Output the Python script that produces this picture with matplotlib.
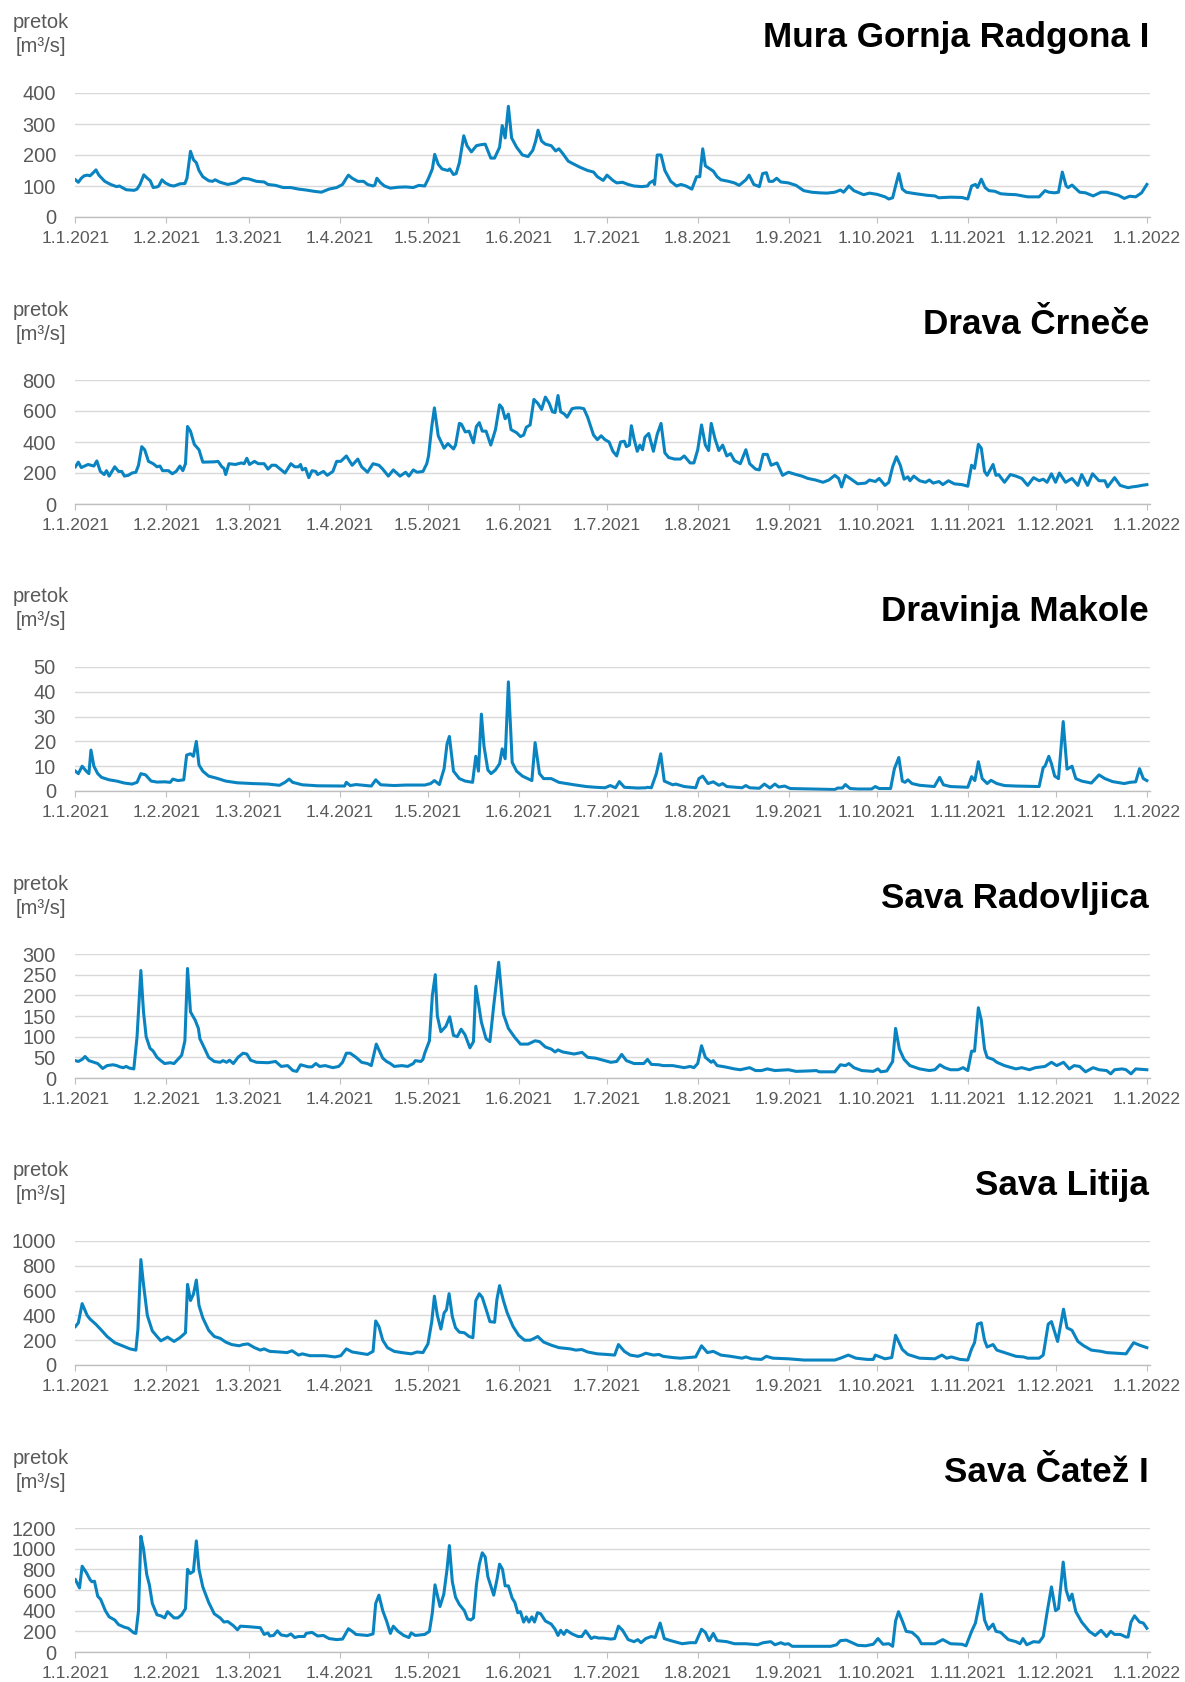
import matplotlib
matplotlib.use("Agg")
import matplotlib.pyplot as plt

plt.rcParams['font.family'] = ['Liberation Sans', 'DejaVu Sans']

# daily discharge 2021, day 0 = 1.1.2021
mura_day = [0, 1, 2, 3, 4, 5, 6.3, 7, 8, 9, 10, 12, 14, 15, 17.3, 20, 21, 22, 23.3, 24.5, 25.5, 26.5, 27.8, 28.4, 29.5,
            30.6, 32.3, 33.6, 35.6, 37.3, 38, 39.2, 40.2, 41.2, 42.1, 43.4, 45.4, 46.7, 47.6, 49.3, 51.9, 54.5, 57.1,
            59, 61.7, 64.3, 65.6, 68.2, 70.8, 73.4, 76, 78.6, 81.2, 83.8, 86.4, 89, 91, 92.3, 93, 94.3, 96.2, 98.2,
            99.5, 101.4, 102, 102.7, 104, 105.3, 107.3, 109.9, 112.5, 115.1, 117, 119, 120.3, 121.6, 122.4, 123.6,
            124.9, 126.9, 127.5, 128.8, 129.7, 130.8, 132.3, 133.4, 134.9, 136.6, 138, 139.6, 141.5, 142.8, 144.5,
            145.4, 146.4, 147.5, 148.6, 150.3, 152.3, 154.2, 155.8, 156.8, 157.6, 158.8, 160.1, 162.1, 163.6, 164.7,
            166, 167.9, 169.9, 172, 174.5, 176.5, 177.8, 179.8, 181.1, 183.1, 184.4, 186.4, 188.3, 190.3, 192.9,
            194.9, 195.6, 196.9, 197.3, 198.2, 199.5, 200.8, 202.8, 204.8, 206.3, 208, 210, 211.6, 212.7, 213.7,
            214.6, 217.3, 218.6, 219.9, 222.5, 224.5, 226.1, 228.4, 229.5, 231.1, 233, 234.1, 235.4, 236.3, 237.6,
            238.9, 240.3, 242.9, 245.5, 248.1, 250.8, 253.4, 256, 258.7, 260.6, 261.7, 263.5, 265.2, 266.5, 268.5,
            270.5, 273.1, 275.8, 277.1, 278.4, 279.4, 280.5, 281.7, 283, 286.3, 290.2, 292.8, 294.1, 298.1, 302,
            304, 305.3, 306.6, 307.3, 308.6, 309.9, 311.2, 313.2, 315.2, 317.8, 320.4, 324.4, 328.3, 330.3, 331.6,
            333.6, 334.9, 336.2, 337.5, 338.2, 339.5, 342.1, 344.1, 346.7, 349.4, 351.3, 353.3, 355.3, 357.3, 359.2,
            361.2, 363.2, 365]
mura_q = [120, 112, 125, 133, 135, 133, 145, 152, 135, 125, 115, 105, 98, 100, 88, 86, 90, 105, 136, 125, 117, 95, 97,
          100, 120, 110, 102, 100, 107, 108, 125, 212, 185, 175, 150, 130, 117, 115, 120, 112, 105, 110, 125, 123, 115,
          113, 105, 102, 95, 95, 90, 87, 83, 80, 90, 95, 105, 125, 135, 125, 115, 115, 105, 100, 103, 125, 110, 100, 93,
          96, 97, 95, 102, 100, 125, 155, 202, 170, 155, 150, 155, 137, 140, 175, 262, 230, 210, 230, 233, 235, 190, 190,
          225, 295, 255, 357, 255, 225, 200, 195, 215, 245, 280, 245, 235, 230, 213, 220, 205, 180, 170, 160, 150, 145,
          130, 118, 135, 118, 110, 112, 105, 100, 98, 100, 110, 117, 105, 200, 200, 150, 115, 100, 105, 100, 90, 130,
          130, 220, 165, 148, 130, 120, 115, 110, 102, 120, 135, 105, 98, 140, 143, 115, 115, 125, 113, 110, 102, 85,
          80, 78, 77, 80, 87, 80, 100, 85, 80, 72, 77, 73, 65, 58, 62, 100, 140, 90, 80, 75, 70, 68, 62, 64, 63, 58,
          100, 105, 95, 122, 95, 85, 83, 75, 73, 72, 65, 65, 85, 80, 78, 80, 145, 100, 95, 103, 80, 78, 68, 80, 80, 75,
          70, 60, 67, 65, 78, 105]

drava_day = [0, 1, 2, 4.3, 6.3, 7.3, 8.5, 9.8, 10.6, 11.5, 13.4, 14.7, 15.8, 16.7, 18, 19.3, 20.6, 21.5, 22.6, 23.6,
             24.9, 26.5, 27.8, 28.8, 29.7, 31.7, 33, 34.3, 35.6, 36.6, 37.5, 38.2, 39.2, 40.5, 42.1, 43.4, 47.3, 48.6,
             49.9, 50.6, 51.2, 52.3, 54.5, 56.5, 57.5, 58.4, 59.3, 61, 62.3, 64.3, 65.6, 66.9, 68.2, 70.1, 71.4, 73.4,
             74.7, 76, 76.7, 77.3, 78.4, 79.5, 80.6, 81.9, 82.5, 84.5, 85.8, 87.7, 89, 90.4, 92.3, 94.3, 96.2, 97.5,
             99.5, 101.4, 103.4, 104.7, 106.6, 108.3, 110.6, 112.5, 113.6, 115.1, 116.4, 118.4, 119.7, 120.3, 121.4,
             122.3, 123.6, 125.6, 126.9, 128.8, 129.5, 130.8, 131.5, 132.8, 134.1, 135.6, 136.6, 137.6, 138.6, 139.9,
             141.5, 143.1, 144.5, 145.4, 146.4, 147.5, 148.4, 150.3, 151.6, 152.7, 153.6, 154.9, 156.2, 157.5, 158.8,
             160.1, 161.4, 162.5, 163.4, 164.4, 165.3, 166.6, 167.5, 169.2, 170.5, 171.9, 173.2, 174.5, 176.5, 177.8,
             179.1, 180.4, 181.8, 183.1, 184.4, 185.7, 187, 187.7, 188.7, 189.4, 190.3, 191.4, 192.3, 193.2, 194,
             195.3, 196.9, 198.2, 199.5, 200.8, 202.1, 204.1, 206.1, 207.4, 209.4, 210.7, 212, 213.3, 214.6, 215.7,
             216.6, 217.9, 219.2, 220.5, 221.9, 223.2, 224.5, 226.5, 228.4, 229.7, 231.7, 233, 234.3, 235.7, 237,
             239, 240.9, 242.9, 245.5, 247.5, 249.5, 252.1, 254.7, 256.7, 258.7, 260, 261, 262.3, 263.9, 266.5,
             269.2, 270.5, 272.5, 273.8, 275.8, 277.1, 278.4, 279.7, 281, 282.3, 283.6, 284.3, 285.6, 287.6, 289.6,
             290.9, 292.2, 294.2, 295.5, 297.4, 299.4, 302, 304, 305.3, 306.3, 307.6, 308.6, 309.7, 310.6, 312.6,
             313.6, 314.5, 316.5, 318.5, 320.4, 322.4, 324.4, 326.4, 328.3, 329.7, 331, 332.5, 333.9, 335.2, 337.3,
             339.5, 341.5, 342.8, 344.8, 346.5, 348.7, 350.7, 351.6, 354, 355.9, 358.6, 359.9, 361.9, 363.2, 365]
drava_q = [240, 270, 235, 255, 245, 278, 210, 190, 215, 180, 240, 210, 210, 180, 185, 200, 205, 250, 370, 350, 275,
           260, 240, 245, 215, 215, 195, 210, 245, 215, 260, 500, 470, 385, 350, 270, 272, 275, 240, 230, 190, 260,
           255, 265, 260, 295, 255, 275, 260, 260, 225, 250, 250, 220, 200, 260, 240, 240, 255, 220, 230, 170, 215,
           210, 190, 210, 185, 210, 275, 275, 310, 250, 290, 240, 205, 260, 250, 225, 180, 220, 180, 205, 180, 220,
           205, 210, 260, 310, 500, 620, 440, 360, 390, 355, 380, 520, 515, 465, 470, 395, 500, 525, 470, 470, 380,
           480, 640, 620, 550, 580, 480, 460, 435, 445, 495, 510, 675, 650, 610, 690, 650, 595, 590, 700, 595, 580,
           560, 615, 620, 620, 615, 560, 445, 415, 440, 415, 400, 340, 310, 400, 405, 370, 380, 505, 420, 340, 380,
           350, 430, 455, 340, 450, 520, 330, 300, 290, 290, 310, 265, 265, 350, 510, 380, 345, 520, 420, 345, 380,
           310, 325, 280, 260, 350, 260, 225, 220, 320, 320, 250, 265, 185, 205, 190, 180, 165, 155, 140, 155, 185,
           165, 110, 185, 165, 130, 135, 155, 145, 165, 120, 140, 240, 305, 250, 160, 175, 150, 180, 150, 140, 155,
           135, 145, 125, 150, 130, 125, 115, 250, 230, 385, 360, 210, 185, 255, 185, 190, 140, 190, 180, 165, 120,
           170, 150, 160, 140, 195, 140, 200, 140, 165, 120, 190, 120, 195, 150, 150, 110, 170, 120, 105, 110, 115,
           120, 125]

dravinja_day = [0, 1, 2.3, 3.7, 4.6, 5.3, 6.3, 7.6, 8.9, 11.5, 14.1, 16.7, 19.3, 21, 22.3, 23.9, 25.8, 27.8, 30.4,
                32.3, 33.2, 34.9, 36.9, 37.9, 39.2, 40.2, 41.2, 42.1, 43.4, 45.4, 48, 51.2, 55.2, 60.4, 65.6, 69.5,
                71.4, 72.8, 74, 77.3, 82.5, 89, 91.7, 92.3, 93.6, 95.6, 100.8, 102.3, 104, 108.6, 112.5, 119, 121,
                122.3, 124, 125.6, 126.6, 127.4, 128.8, 130.8, 132.8, 135.3, 136.4, 137.3, 138.3, 139.2, 140.5, 141.6,
                143.1, 144.5, 145.4, 146.4, 147.5, 148.8, 150.3, 152.3, 154.9, 155.5, 156.6, 158.1, 159.5, 162.1,
                164.7, 169.9, 174, 177.2, 180.4, 182.2, 184, 185.3, 187, 191.6, 194.3, 194.9, 196.2, 197.9, 199.4,
                200.6, 203.5, 204.5, 207.4, 211.3, 212.4, 213.7, 215.5, 217.3, 219.2, 220.5, 221.9, 227.1, 228.4,
                229.7, 233, 234.7, 236.6, 238.3, 239.6, 241.6, 243.5, 250.8, 258.7, 259.7, 261.3, 262.3, 263.9,
                266.5, 271.2, 272.5, 273.8, 277.7, 279, 280.5, 281.7, 282.6, 283.6, 285, 287.6, 292.6, 294.4, 295.7,
                298.1, 304, 305.3, 306.4, 307.6, 308.9, 310.6, 311.9, 313.9, 316.5, 320.4, 328.3, 329.7, 330.3, 331.6,
                332.5, 333.6, 334.9, 336.5, 337.8, 339.5, 340.8, 342.8, 346.1, 348.7, 350.7, 353.3, 357.3, 359.2,
                361.2, 362.5, 363.8, 365]
dravinja_q = [8, 7, 10, 8, 7, 16.5, 10, 7, 5.5, 4.5, 4, 3.2, 2.8, 3.5, 7, 6.5, 4, 3.6, 3.7, 3.5, 4.8, 4.2, 4.5, 14.5,
              15, 14, 20, 10.5, 8, 6, 5.2, 4, 3.3, 3.0, 2.8, 2.3, 3.5, 4.8, 3.5, 2.5, 2.1, 2.0, 2, 3.5, 2.2, 2.6, 2.0,
              4.5, 2.5, 2.2, 2.4, 2.4, 3, 4.2, 2.6, 9, 19, 22, 8, 5, 4, 3.5, 14, 8, 31, 18, 8.5, 7, 8.5, 11, 17, 13, 44,
              11.5, 8, 6, 4.5, 4.2, 19.5, 7, 5, 5, 3.5, 2.5, 1.8, 1.5, 1.3, 2.2, 1.3, 3.8, 1.5, 1.2, 1.3, 1.5, 1.3, 7,
              15, 4, 2.5, 2.8, 1.8, 1.3, 5, 6, 3, 3.7, 2.3, 3, 1.8, 1.3, 2.2, 1.3, 1.1, 2.8, 1.2, 2.8, 1.6, 2, 1, 0.8,
              0.6, 1.2, 1.2, 2.6, 1.0, 0.8, 0.8, 1.8, 1, 1, 9, 13.5, 4, 3.5, 4.5, 3, 2.3, 1.8, 5.5, 2.5, 1.8, 1.5, 5.8,
              4.2, 11.8, 5, 3, 4.3, 3, 2.2, 2, 1.8, 9.5, 10, 14, 11, 6, 5, 28, 8.8, 10, 5, 4, 3.2, 6.5, 5, 3.8, 3, 3.5,
              3.7, 9, 5, 4.2]

radovljica_day = [0, 1, 2.3, 3.3, 4.6, 6.3, 7.6, 9.3, 10.8, 12.8, 14.1, 15.1, 16.3, 17.3, 18.4, 19.9, 21, 22.3, 23.2,
                  24.1, 25.4, 26.5, 27.8, 29.1, 30.4, 32.3, 33.6, 34.9, 36.2, 37.3, 38.2, 39.2, 40.8, 41.9, 42.4, 44.1,
                  45.4, 47.3, 49.3, 50.3, 51.5, 52.5, 53.8, 55.4, 57.1, 58.4, 59.7, 61.7, 65.6, 68.2, 70.1, 72.3,
                  74.1, 75.4, 76.7, 79.3, 80.6, 81.9, 83.2, 85.1, 87.7, 89.7, 91, 92.3, 93.6, 95.6, 97.5, 99.5, 100.8,
                  102.5, 104.7, 106, 107.3, 108.6, 111.2, 113.2, 115.1, 115.8, 117.7, 118.4, 119, 120.6, 121.6, 122.6,
                  123.3, 124.5, 126.2, 127.5, 128.8, 130.1, 131.4, 132.7, 134.4, 135.6, 136.4, 138.3, 139.9, 141.2,
                  142.5, 144.2, 145.8, 147.5, 149.7, 151.6, 154.2, 156.6, 158.1, 160.1, 162.1, 163.4, 164.4, 166,
                  169.9, 172.6, 174.5, 177.2, 179.8, 182.4, 184.4, 186.1, 187.7, 190.3, 193.6, 194.9, 196.2, 198.8,
                  200.2, 203.5, 207.4, 209.4, 210.7, 212, 213.3, 214.6, 216.6, 217.3, 218.6, 221.2, 224.5, 226.5,
                  229.7, 231.7, 233.7, 235.7, 238.3, 242.9, 245.5, 249.5, 252.4, 253.4, 258.7, 260.6, 262.3, 263.5,
                  265.2, 267.9, 271.8, 273.4, 274.4, 276.4, 278.4, 279.4, 280.7, 282.3, 284.3, 287.6, 290.9, 292.8,
                  294.5, 296.1, 298.1, 300.7, 302.4, 304, 305.3, 306.3, 307.6, 308.6, 309.7, 310.6, 312.6, 313.9,
                  316.5, 320.4, 322.4, 325, 327, 330.3, 332.5, 334.3, 336.6, 338.6, 340.2, 342.1, 344.1, 346.7, 348.7,
                  351.3, 352.7, 354, 356.6, 357.9, 359.6, 361.2, 365]
radovljica_q = [42, 40, 45, 52, 42, 38, 35, 23, 30, 32, 30, 27, 25, 28, 24, 22, 100, 260, 160, 100, 72, 65, 50, 42, 35,
                37, 35, 45, 55, 90, 265, 160, 140, 120, 95, 70, 50, 40, 38, 42, 38, 43, 35, 50, 60, 58, 43, 38, 37, 40,
                28, 30, 18, 16, 32, 27, 27, 35, 28, 30, 25, 28, 38, 60, 60, 50, 38, 35, 30, 82, 48, 40, 35, 28, 30, 28,
                35, 42, 40, 45, 60, 90, 200, 250, 150, 112, 125, 148, 103, 100, 118, 105, 73, 88, 222, 135, 95, 88, 175,
                280, 155, 120, 98, 82, 82, 90, 88, 75, 70, 63, 68, 63, 58, 62, 50, 48, 43, 38, 40, 57, 42, 35, 35, 45,
                33, 32, 30, 30, 25, 28, 25, 35, 78, 50, 38, 42, 30, 27, 22, 20, 25, 18, 18, 22, 18, 20, 16, 17, 18, 15,
                15, 32, 30, 35, 25, 18, 16, 22, 15, 17, 40, 120, 70, 45, 30, 22, 18, 20, 32, 25, 20, 20, 25, 18, 65, 65,
                170, 140, 70, 50, 45, 38, 30, 22, 25, 20, 25, 28, 38, 30, 38, 22, 30, 28, 15, 25, 20, 18, 10, 20, 22, 20,
                10, 22, 20]

litija_day = [0, 1, 2.3, 4, 5, 6.9, 8.9, 10.8, 13.4, 16, 18.6, 20.6, 21.3, 22.3, 23.2, 24.5, 26.2, 27.8, 29.1, 31.4,
              33.6, 35.6, 37.5, 38.2, 39.2, 40.2, 41.2, 42.1, 43.4, 45.4, 47.3, 49.3, 51.2, 53.2, 55.8, 57.1, 58.8, 61,
              63, 64.3, 66.2, 69.5, 72.1, 73.8, 76, 77.3, 79.9, 85.1, 88.4, 90.4, 92.3, 94.3, 96.9, 99.5, 101.4, 102.3,
              103.4, 104.7, 106.3, 108.6, 111.2, 114.4, 116.4, 118.4, 120.1, 121.4, 122.3, 123.3, 124.5, 125.6, 126.4,
              127.3, 128.4, 129.5, 130.8, 132.5, 134.1, 135.4, 136.4, 137.6, 138.6, 139.9, 141.2, 142.8, 143.6, 144.5,
              145.8, 147.1, 149.1, 151, 153, 154.9, 155.9, 157.5, 159.5, 162.1, 164.7, 168.6, 170.5, 172.5, 174.5,
              177.8, 181.1, 183.7, 185, 187, 189, 191.6, 192.9, 194.3, 196.9, 198.8, 200.2, 203.5, 206.1, 208.7, 211.3,
              213.3, 215.3, 217.3, 219.9, 223.2, 227.1, 228.4, 230.4, 233.7, 235.4, 237.6, 242.9, 248.1, 253.4, 258.7,
              260.6, 263.3, 265.9, 269.8, 271.8, 272.5, 275.8, 278.1, 279.4, 281.7, 283.6, 287.6, 292.8, 295.2, 296.8,
              298.4, 301.4, 304, 305.3, 306.3, 307.3, 308.6, 309.7, 310.6, 312.6, 313.9, 316.5, 320.4, 323, 324.4,
              328.3, 329.7, 331.4, 332.5, 334.6, 336.6, 337.8, 339.5, 341.5, 343.5, 346.1, 349.4, 351.3, 354.6, 357.9,
              360.5, 362.5, 365]
litija_q = [310, 340, 495, 400, 370, 330, 280, 230, 180, 155, 130, 120, 290, 850, 650, 400, 275, 230, 195, 225, 190,
            220, 260, 650, 520, 570, 685, 480, 380, 280, 230, 215, 185, 165, 155, 165, 170, 140, 120, 130, 110, 105, 100,
            115, 80, 90, 75, 75, 65, 75, 130, 105, 95, 85, 110, 355, 310, 200, 140, 110, 100, 90, 105, 100, 170, 350,
            555, 400, 290, 420, 445, 575, 390, 300, 265, 260, 230, 220, 520, 575, 545, 450, 350, 345, 530, 640, 520, 420,
            310, 240, 200, 200, 210, 230, 185, 160, 140, 130, 120, 125, 105, 90, 85, 80, 165, 110, 80, 70, 80, 95, 80,
            85, 70, 60, 55, 60, 65, 155, 100, 110, 80, 70, 55, 65, 50, 45, 70, 55, 50, 40, 40, 40, 55, 80, 55, 45, 45,
            80, 50, 60, 240, 125, 85, 55, 50, 80, 55, 65, 45, 40, 130, 180, 330, 340, 200, 145, 165, 120, 100, 70, 65,
            55, 55, 80, 330, 350, 190, 450, 300, 280, 190, 155, 120, 110, 100, 95, 90, 180, 160, 140]

catez_day = [0, 1.4, 2.3, 3.7, 5, 5.6, 6.5, 7.6, 8.6, 10.2, 11.5, 13.4, 14.7, 16.7, 18, 19.9, 20.6, 21.5, 22.3, 23.2,
             24.3, 25.2, 26.2, 27.8, 29.1, 30.4, 31.4, 33.6, 34.9, 36.2, 37.5, 38.2, 39.1, 40.2, 41.2, 42.1, 43.4, 45.4,
             47.3, 49.3, 50.6, 51.9, 53.8, 55.2, 56.2, 59, 63, 64.3, 65.6, 66.2, 67.5, 68.8, 70.1, 72.1, 73.4, 74.7,
             76, 78, 78.6, 80.6, 82.5, 84.5, 86.4, 89, 91, 93, 94.3, 95.6, 99.5, 101.4, 102.3, 103.4, 104.7, 106,
             107.3, 108.3, 109.9, 111.9, 113.6, 114.4, 115.8, 119, 120.6, 121.6, 122.5, 124.2, 125.5, 126.6, 127.4,
             128.4, 129.5, 130.8, 132.5, 133.6, 134.7, 135.6, 136.6, 137.6, 138.6, 139.6, 140.5, 142.5, 143.6, 144.5,
             145.5, 146.4, 147.5, 148.8, 149.7, 150.7, 151.6, 152.7, 153.6, 154.5, 155.5, 156.4, 157.4, 158.5, 160.1,
             162.1, 163.4, 164.4, 165.3, 166.4, 167.3, 169.2, 171.2, 172.5, 173.8, 175.7, 176.8, 178.3, 179.8, 182.4,
             183.7, 185, 186.4, 188.3, 190.3, 191.6, 192.7, 194.3, 196.2, 197.5, 199.2, 200.6, 202.8, 204.8, 206.7,
             209.4, 211.3, 213.3, 214.6, 215.9, 217.3, 218.6, 221.9, 224.5, 228.4, 232.4, 234.3, 236.9, 238.3, 240.3,
             241.6, 242.9, 244.2, 250.8, 257.3, 259.3, 260.6, 262.6, 264.6, 266.5, 269.2, 271.8, 273.4, 275.1, 277.1,
             278.4, 279.4, 280.4, 281.7, 283, 285, 287, 288.2, 292.8, 295.5, 298.1, 302, 303.4, 305.3, 306.6, 308.6,
             309.7, 311, 312.6, 313.6, 315.2, 317.8, 320.4, 321.8, 322.8, 324.1, 326.4, 328.3, 329.7, 331, 332.5,
             333.9, 334.9, 336.5, 337.5, 338.6, 339.5, 340.8, 342.8, 345.4, 347.4, 349.4, 351.3, 352.7, 354, 356,
             357.9, 358.6, 359.6, 360.8, 362.5, 363.8, 365]
catez_q = [700, 620, 830, 770, 700, 680, 685, 540, 510, 400, 340, 310, 265, 240, 230, 185, 180, 400, 1120, 1000, 750,
           650, 470, 360, 350, 330, 390, 330, 330, 360, 420, 800, 760, 780, 1075, 800, 630, 480, 370, 330, 290, 295,
           255, 215, 250, 245, 235, 170, 185, 155, 160, 205, 165, 155, 175, 140, 150, 150, 180, 190, 155, 160, 130,
           120, 125, 225, 200, 170, 160, 175, 470, 550, 400, 300, 180, 250, 200, 160, 140, 185, 160, 170, 200, 380,
           650, 440, 560, 800, 1030, 680, 530, 460, 400, 320, 310, 330, 650, 850, 960, 920, 730, 550, 700, 850, 800,
           640, 640, 520, 480, 380, 390, 290, 340, 290, 340, 290, 380, 370, 300, 270, 220, 160, 210, 170, 210, 175,
           150, 150, 205, 130, 145, 135, 135, 125, 130, 250, 210, 120, 100, 120, 90, 130, 150, 140, 280, 130, 110, 95,
           80, 90, 90, 220, 190, 110, 180, 110, 100, 80, 80, 70, 90, 100, 70, 90, 75, 80, 55, 55, 55, 70, 110, 115,
           90, 65, 60, 75, 130, 75, 80, 55, 300, 390, 300, 200, 190, 140, 80, 80, 120, 80, 75, 60, 200, 280, 560, 310,
           220, 270, 200, 190, 120, 100, 80, 130, 70, 100, 95, 150, 380, 630, 400, 420, 870, 600, 500, 560, 390, 290,
           200, 160, 210, 150, 200, 170, 170, 145, 145, 290, 350, 290, 280, 230]

stations = ["Mura Gornja Radgona I", "Drava Črneče", "Dravinja Makole",
            "Sava Radovljica", "Sava Litija", "Sava Čatež I"]
series = [(mura_day, mura_q), (drava_day, drava_q), (dravinja_day, dravinja_q),
          (radovljica_day, radovljica_q), (litija_day, litija_q), (catez_day, catez_q)]
y_max = [400, 800, 50, 300, 1000, 1200]
y_step = [100, 200, 10, 50, 200, 200]

month_days = [0, 31, 59, 90, 120, 151, 181, 212, 243, 273, 304, 334, 365]
month_labels = ["1.1.2021", "1.2.2021", "1.3.2021", "1.4.2021", "1.5.2021", "1.6.2021", "1.7.2021",
                "1.8.2021", "1.9.2021", "1.10.2021", "1.11.2021", "1.12.2021", "1.1.2022"]

W, H = 1185, 1682
fig = plt.figure(figsize=(W / 100, H / 100), dpi=100)

line_col = "#0a84c1"
grey_txt = "#595959"

for i, name in enumerate(stations):
    zero_y = 217 + 287 * i
    left, right, height = 75.4, 1149.5, 124
    ax = fig.add_axes([left / W, 1 - zero_y / H, (right - left) / W, height / H])
    d, q = series[i]
    ax.plot(d, q, color=line_col, lw=2.2, solid_joinstyle="round")
    ax.set_xlim(0, 365.9)
    ax.set_ylim(0, y_max[i])
    ax.set_yticks(range(0, y_max[i] + 1, y_step[i]))
    ax.set_xticks(month_days)
    ax.set_xticklabels(month_labels)
    ax.grid(axis="y", color="#d9d9d9", lw=1)
    ax.set_axisbelow(True)
    for s in ["top", "left", "right"]:
        ax.spines[s].set_visible(False)
    ax.spines["bottom"].set_color("#bfbfbf")
    ax.spines["bottom"].set_linewidth(1)
    ax.tick_params(axis="x", length=4, color="#bfbfbf", labelsize=12.6, labelcolor=grey_txt, pad=6)
    ax.tick_params(axis="y", length=0, labelsize=14.4, labelcolor=grey_txt, pad=14)

    fig.text(1149 / W, 1 - (zero_y - 180) / H, name, ha="right", va="center",
             fontsize=25.3, fontweight="bold", color="black")
    fig.text(41 / W, 1 - (zero_y - 194) / H, "pretok", ha="center", va="center",
             fontsize=14.5, color=grey_txt)
    fig.text(41 / W, 1 - (zero_y - 170) / H, "[m³/s]", ha="center", va="center",
             fontsize=14.5, color=grey_txt)

fig.savefig("out.png", dpi=100, facecolor="white")
